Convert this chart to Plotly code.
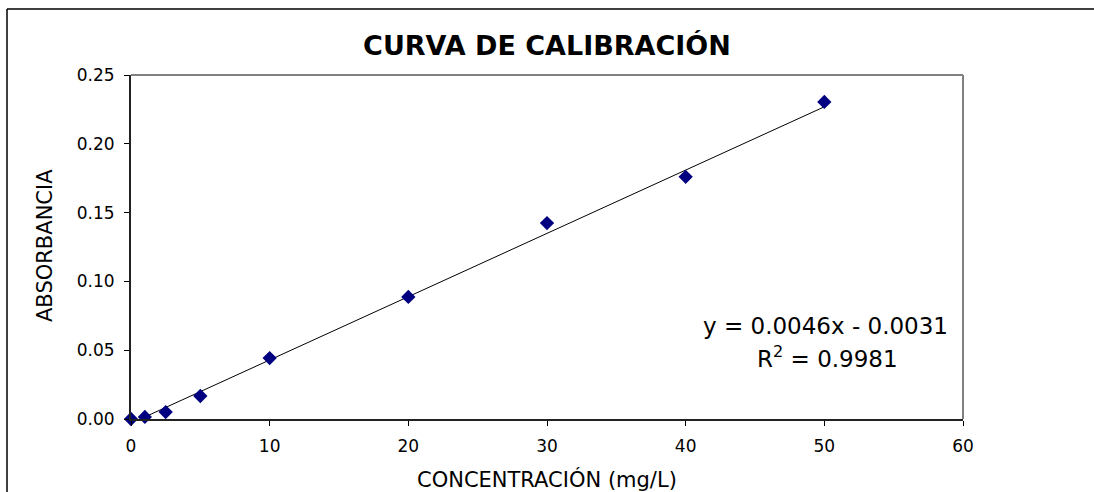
import plotly.graph_objects as go

conc = [0, 1, 2.5, 5, 10, 20, 30, 40, 50]
absorb = [0.0, 0.0015, 0.005, 0.0167, 0.0443, 0.0887, 0.1424, 0.176, 0.2304]
slope = 0.0046
intercept = -0.0031
fit_x = [0, 50]
fit_y = [slope * v + intercept for v in fit_x]
x_ticks = [0, 10, 20, 30, 40, 50, 60]
y_ticks = [0.0, 0.05, 0.10, 0.15, 0.20, 0.25]

FONT = "DejaVu Sans"
L, R, T, B = 131, 131, 75, 73
PW, PH = 1094 - L - R, 492 - T - B


def px(x):
    return (x - L) / PW


def py(y):
    return (492 - B - y) / PH


fig = go.Figure()
fig.add_trace(go.Scatter(x=fit_x, y=fit_y, mode="lines",
                         line=dict(color="black", width=1), showlegend=False,
                         hoverinfo="skip"))
fig.add_trace(go.Scatter(x=conc, y=absorb, mode="markers",
                         marker=dict(symbol="diamond", size=11, color="#000080",
                                     line=dict(width=0)),
                         showlegend=False, cliponaxis=False))

fig.update_layout(
    width=1094, height=492,
    margin=dict(l=L, r=R, t=T, b=B, autoexpand=False),
    paper_bgcolor="white", plot_bgcolor="white",
    font=dict(family=FONT, color="black", size=17),
    title=dict(text="<b>CURVA DE CALIBRACIÓN</b>", x=0.5, xanchor="center",
               y=1 - 46 / 492, yanchor="middle",
               font=dict(family=FONT, size=27, color="black")),
    xaxis=dict(range=[0, 60], tickvals=x_ticks, ticktext=[str(v) for v in x_ticks],
               showgrid=False, zeroline=False, showline=True, linecolor="#222222",
               linewidth=2, ticks="outside", ticklen=5, tickcolor="black",
               tickfont=dict(size=17), ticklabelstandoff=6, automargin=False),
    yaxis=dict(range=[0, 0.25], tickvals=y_ticks, ticktext=[f"{v:.2f}" for v in y_ticks],
               showgrid=False, zeroline=False, showline=True, linecolor="#222222",
               linewidth=2, ticks="outside", ticklen=5, tickcolor="black",
               tickfont=dict(size=17), ticklabelstandoff=6, automargin=False),
    shapes=[
        dict(type="line", xref="paper", yref="paper", x0=0, x1=1, y0=1, y1=1,
             line=dict(color="#808080", width=2)),
        dict(type="line", xref="paper", yref="paper", x0=1, x1=1, y0=0, y1=1,
             line=dict(color="#808080", width=2)),
        # outer chart frame
        dict(type="line", xref="paper", yref="paper",
             x0=px(7), x1=px(1100), y0=py(9), y1=py(9),
             line=dict(color="black", width=1.5)),
        dict(type="line", xref="paper", yref="paper",
             x0=px(7), x1=px(7), y0=py(9), y1=py(500),
             line=dict(color="black", width=1.5)),
    ],
    annotations=[
        dict(text="CONCENTRACIÓN (mg/L)", xref="paper", yref="paper",
             x=0.5, y=py(479), xanchor="center", yanchor="middle",
             showarrow=False, font=dict(size=21)),
        dict(text="ABSORBANCIA", xref="paper", yref="paper", textangle=-90,
             x=px(45), y=py(246), xanchor="center", yanchor="middle",
             showarrow=False, font=dict(size=21)),
        dict(text="y = 0.0046x - 0.0031", xref="paper", yref="paper",
             x=px(950), y=py(326), xanchor="right", yanchor="middle",
             showarrow=False, font=dict(size=23)),
        dict(text="R<sup>2</sup> = 0.9981", xref="paper", yref="paper",
             x=px(827), y=py(357), xanchor="center", yanchor="middle",
             showarrow=False, font=dict(size=23)),
    ],
)

fig.write_html("out.html", config={"displayModeBar": False},
               post_script="document.body.style.margin='0';document.body.style.padding='0';")
